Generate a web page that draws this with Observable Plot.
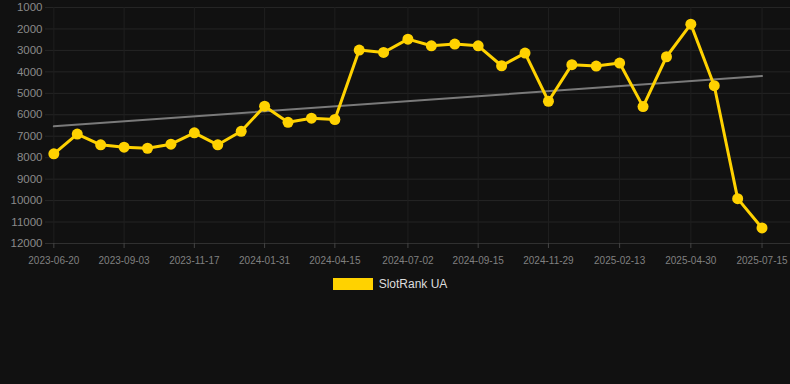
<!DOCTYPE html>
<html>
<head>
<meta charset="utf-8">
<script src="https://cdn.jsdelivr.net/npm/d3@7"></script>
<script src="https://cdn.jsdelivr.net/npm/@observablehq/plot@0.6"></script>
<style>
  html, body { margin: 0; padding: 0; background: #111111; }
  body { width: 790px; height: 384px; overflow: hidden; font-family: "Liberation Sans", Arial, sans-serif; }
  #chart svg { display: block; }
  #legend { display: flex; justify-content: center; align-items: center; gap: 6px; margin-top: 10px; height: 12px; padding-right: 10px; }
  #legend .sw { width: 40px; height: 12px; background: #FFD200; }
  #legend .lb { color: #dddddd; font-size: 12px; }
</style>
</head>
<body>
<div id="chart"></div>
<div id="legend"><span class="sw"></span><span class="lb">SlotRank UA</span></div>
<script>
const dates = [
  "2023-06-20","2023-07-15","2023-08-09","2023-09-03","2023-09-28","2023-10-23",
  "2023-11-17","2023-12-12","2024-01-06","2024-01-31","2024-02-25","2024-03-21",
  "2024-04-15","2024-05-11","2024-06-06","2024-07-02","2024-07-27","2024-08-21",
  "2024-09-15","2024-10-10","2024-11-04","2024-11-29","2024-12-24","2025-01-19",
  "2025-02-13","2025-03-10","2025-04-04","2025-04-30","2025-05-25","2025-06-19",
  "2025-07-15"
];
const ranks = [
  7820, 6900, 7400, 7510, 7560, 7370,
  6840, 7400, 6770, 5600, 6350, 6160,
  6220, 2985, 3095, 2475, 2785, 2705,
  2785, 3715, 3125, 5370, 3665, 3730,
  3590, 5620, 3295, 1775, 4645, 9910,
  11275
];
const xTickLabels = [
  "2023-06-20","2023-09-03","2023-11-17","2024-01-31","2024-04-15","2024-07-02",
  "2024-09-15","2024-11-29","2025-02-13","2025-04-30","2025-07-15"
];
const yTicks = [1000,2000,3000,4000,5000,6000,7000,8000,9000,10000,11000,12000];
const seriesName = "SlotRank UA";

const parse = d3.utcParse("%Y-%m-%d");
const data = dates.map((d, i) => ({date: parse(d), rank: ranks[i]}));
const xTicks = xTickLabels.map(parse);

const start = parse(dates[0]), end = parse(dates[dates.length - 1]);
const day = 864e5;
const xDomain = [new Date(+start - 8.9 * day), new Date(+end + 30.4 * day)];

const gold = "#FFD200";
const chart = Plot.plot({
  width: 790,
  height: 268,
  marginLeft: 45,
  marginRight: 0,
  marginTop: 7,
  marginBottom: 25,
  style: {background: "#111111", fontFamily: "Liberation Sans, Arial, sans-serif"},
  x: {type: "utc", domain: xDomain},
  y: {domain: [1000, 12000], reverse: true},
  marks: [
    Plot.gridY(yTicks, {stroke: "#252525", strokeOpacity: 1}),
    Plot.gridX(xTicks, {stroke: "#1f1f1f", strokeOpacity: 1}),
    Plot.ruleY([12000], {stroke: "#303030"}),
    Plot.axisY(yTicks, {tickSize: 0, tickPadding: 3, fontSize: 11.5, fill: "#8a8a8a", tickFormat: d => String(d), label: null}),
    Plot.axisX(xTicks, {tickSize: 5, tickPadding: 8, stroke: "#444", fontSize: 10, fill: "#808080", tickFormat: d3.utcFormat("%Y-%m-%d"), label: null}),
    Plot.linearRegressionY(data, {x: "date", y: "rank", stroke: "#7a7a7a", strokeWidth: 2, ci: 0}),
    Plot.line(data, {x: "date", y: "rank", stroke: gold, strokeWidth: 3, strokeLinejoin: "round"}),
    Plot.dot(data, {x: "date", y: "rank", r: 5.5, fill: gold, stroke: null, title: d => seriesName})
  ]
});
document.getElementById("chart").append(chart);
</script>
</body>
</html>
